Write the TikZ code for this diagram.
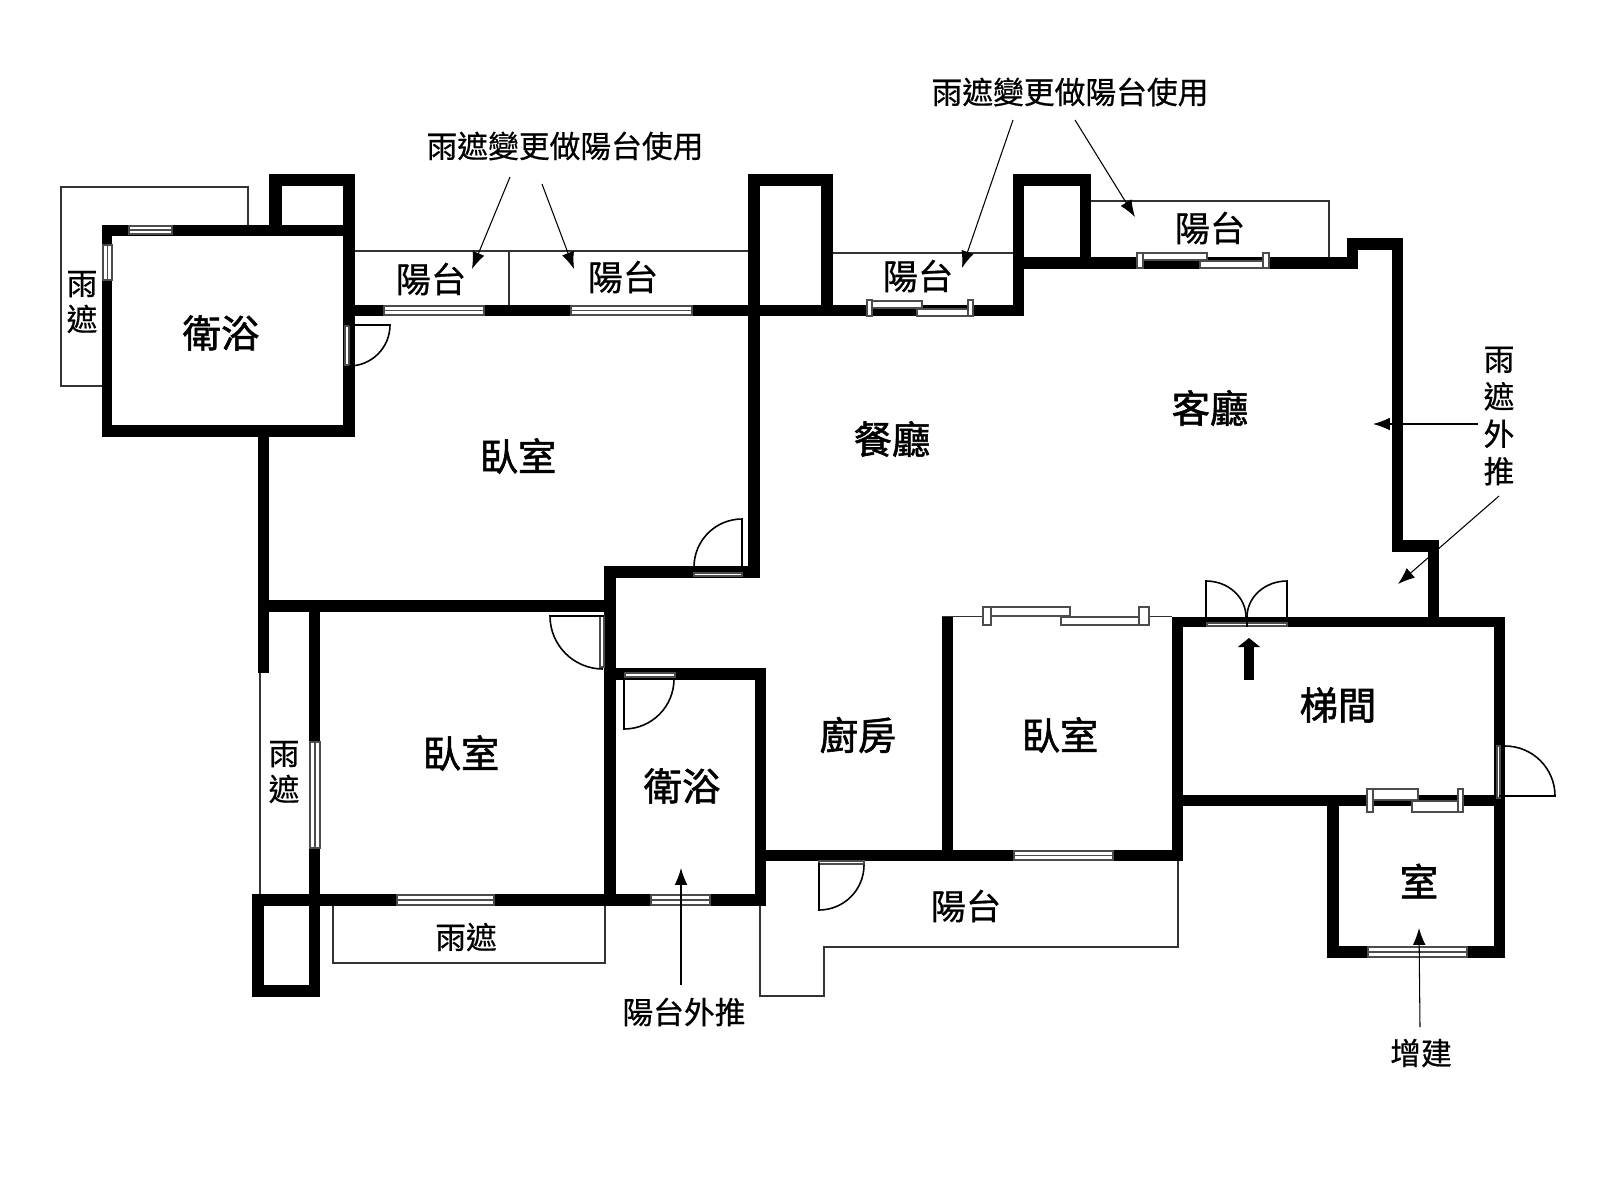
\documentclass[tikz,border=0pt]{standalone}
\usepackage{fontspec}
\setmainfont{Noto Sans CJK TC}
\newfontfamily\roomfont[FakeBold=1.5]{Noto Sans CJK TC}
\newfontfamily\notefont[FakeBold=.6]{Noto Sans CJK TC}
\usetikzlibrary{arrows.meta}
\tikzset{
wall/.style={fill=black},
thin line/.style={draw=black!80,line width=.45pt},
glass/.style={draw=black!70,fill=white,line width=.35pt},
door/.style={draw=black,line width=.45pt},
leader/.style={draw=black,line width=.3pt,-{Latex[length=4.8pt,width=3.6pt]}},
room/.style={font=\roomfont\fontsize{10.9}{13}\selectfont,inner sep=0pt},
balcony/.style={font=\notefont\fontsize{10}{12}\selectfont,inner sep=0pt},
note/.style={font=\notefont\fontsize{8.75}{10.2}\selectfont,inner sep=0pt,align=center},
}
\begin{document}
\begin{tikzpicture}[x=.01cm,y=-.01cm]
\useasboundingbox (0,0) rectangle (1600,1200);
% outlines of balconies and canopies
\draw[thin line] (102,386) -- (61,386) -- (61,187) -- (248,187) -- (248,225);
\draw[thin line] (355,251) -- (748,251);
\draw[thin line] (509,251) -- (509,305);
\draw[thin line] (833,253) -- (1013,253);
\draw[thin line] (1091,201) -- (1329,201) -- (1329,257);
\draw[thin line] (260,673) -- (260,894);
\draw[thin line] (333,906) -- (333,963) -- (605,963) -- (605,906);
\draw[thin line] (760,906) -- (760,996) -- (824,996) -- (824,947) -- (1178,947) -- (1178,860);
\draw[thin line] (942,616.5) -- (1172,616.5);
% walls
\fill[wall] (102,225) rectangle (355,236);
\fill[wall] (102,225) rectangle (112,437);
\fill[wall] (102,425) rectangle (355,437);
\fill[wall] (343,174) rectangle (355,437);
\fill[wall] (269,174) rectangle (355,186);
\fill[wall] (269,174) rectangle (282,236);
\fill[wall] (355,305) rectangle (1024,316);
\fill[wall] (748,174) rectangle (833,186);
\fill[wall] (748,174) rectangle (760,578);
\fill[wall] (821,174) rectangle (833,316);
\fill[wall] (604,566) rectangle (760,578);
\fill[wall] (1013,174) rectangle (1091,186);
\fill[wall] (1013,174) rectangle (1024,316);
\fill[wall] (1080,174) rectangle (1091,269);
\fill[wall] (1013,257) rectangle (1358,269);
\fill[wall] (1347,238) rectangle (1358,269);
\fill[wall] (1347,238) rectangle (1403,250);
\fill[wall] (1392,238) rectangle (1403,552);
\fill[wall] (1392,540) rectangle (1439,552);
\fill[wall] (1428,540) rectangle (1439,617);
\fill[wall] (258,437) rectangle (269,673);
\fill[wall] (258,600) rectangle (616,612);
\fill[wall] (309,600) rectangle (320,997);
\fill[wall] (604,566) rectangle (616,906);
\fill[wall] (252,894) rectangle (766,906);
\fill[wall] (252,894) rectangle (264,997);
\fill[wall] (252,985) rectangle (320,997);
\fill[wall] (604,668) rectangle (766,680);
\fill[wall] (755,668) rectangle (766,906);
\fill[wall] (766,850) rectangle (1183,861);
\fill[wall] (942,617) rectangle (953,861);
\fill[wall] (1172,617) rectangle (1183,861);
\fill[wall] (1172,617) rectangle (1505,627);
\fill[wall] (1494,617) rectangle (1505,958);
\fill[wall] (1172,795) rectangle (1505,806);
\fill[wall] (1327,795) rectangle (1339,958);
\fill[wall] (1327,946) rectangle (1505,958);
% windows
\draw[glass] (129,226) rectangle (172,234) (129,230) -- (172,230);
\draw[glass] (103,245) rectangle (112,280) (107.5,245) -- (107.5,280);
\draw[glass] (384,306) rectangle (484,315) (384,310.5) -- (484,310.5);
\draw[glass] (571,306) rectangle (692,315) (571,310.5) -- (692,310.5);
\draw[glass] (397,895) rectangle (494,905) (397,900) -- (494,900);
\draw[glass] (651,895) rectangle (710,905) (651,900) -- (710,900);
\draw[glass] (310,742) rectangle (320,848) (315,742) -- (315,848);
\draw[glass] (1014,851) rectangle (1113,860) (1014,855.5) -- (1113,855.5);
\draw[glass] (1368,947) rectangle (1467,957) (1368,952) -- (1467,952);
% sliding windows
\draw[glass] (872,301) rectangle (922,308);
\draw[glass] (917,309) rectangle (968,316);
\draw[glass] (867,300) rectangle (872,316);
\draw[glass] (968,300) rectangle (973,316);
\draw[glass] (1143,253) rectangle (1207,260);
\draw[glass] (1200,261) rectangle (1263,268);
\draw[glass] (1137,253) rectangle (1143,268);
\draw[glass] (1263,253) rectangle (1269,268);
\draw[glass] (991,607) rectangle (1070,616);
\draw[glass] (1061,617) rectangle (1139,625);
\draw[glass] (983,607) rectangle (991,625);
\draw[glass] (1139,607) rectangle (1149,625);
\draw[glass] (1373,789) rectangle (1418,800);
\draw[glass] (1412,801) rectangle (1458,812);
\draw[glass] (1367,789) rectangle (1373,812);
\draw[glass] (1458,789) rectangle (1463,812);
% doors
\draw[glass] (345,326) rectangle (349,365);
\draw[door] (349,325) -- (390,325) arc (0:90:41);
\draw[glass] (694,573) rectangle (742,576);
\draw[door] (742,566) -- (742,519) arc (-90:-180:48);
\draw[glass] (600,616) rectangle (604,667);
\draw[door] (604,616) -- (550,616) arc (180:90:53);
\draw[glass] (625,673) rectangle (675,677);
\draw[door] (624,680) -- (624,729) arc (90:0:50);
\draw[glass] (819,861) rectangle (864,864);
\draw[door] (819,863) -- (819,910) arc (90:0:45);
\draw[glass] (1207,623) rectangle (1287,626);
\draw[door] (1206,617) -- (1206,581) arc[start angle=-90,end angle=0,x radius=40,y radius=36];
\draw[door] (1287,617) -- (1287,581) arc[start angle=-90,end angle=-180,x radius=40,y radius=36];
\draw[door] (1247,617) -- (1247,627);
\draw[glass] (1497,746) rectangle (1500,798);
\draw[door] (1505,746) arc (-90:0:50) -- (1499,796);
% rooms
\node[room] (bath1) at (221,333) {衛浴};
\node[room] (bed1) at (518,456) {臥室};
\node[room] (dining) at (892,439) {餐廳};
\node[room] (living) at (1210,408) {客廳};
\node[room] (bed2) at (461,753) {臥室};
\node[room] (bath2) at (682,786) {衛浴};
\node[room] (kitchen) at (858,735) {廚房};
\node[room] (bed3) at (1060,735) {臥室};
\node[room] (stair) at (1338,705) {梯間};
\node[room] (extra) at (1419,881) {室};
% balconies
\node[balcony] (balc1) at (431,279) {陽台};
\node[balcony] (balc2) at (623,277) {陽台};
\node[balcony] (balc3) at (918,276) {陽台};
\node[balcony] (balc4) at (1210,228) {陽台};
\node[balcony] (balc5) at (966,906) {陽台};
% notes
\node[note] (rain1) at (82,302) {雨\\遮};
\node[note] (rain2) at (284,772) {雨\\遮};
\node[note] (rain3) at (466,937) {雨遮};
\node[note] (title1) at (565,146) {雨遮變更做陽台使用};
\node[note] (title2) at (1070,92) {雨遮變更做陽台使用};
\node[note] (push1) at (1499,416) {雨\\[.45pt]遮\\[.45pt]外\\[.45pt]推};
\node[note] (push2) at (684,1012) {陽台外推};
\node[note] (added) at (1421,1053) {增建};
% leaders
\coordinate (a1) at (510,177);
\coordinate (a2) at (472,269);
\coordinate (b1) at (542,184);
\coordinate (b2) at (574,269);
\coordinate (c1) at (1013,120);
\coordinate (c2) at (962,268);
\coordinate (d1) at (1075,120);
\coordinate (d2) at (1135,217);
\coordinate (e1) at (1478,424);
\coordinate (e2) at (1373,424);
\coordinate (f1) at (1499,496);
\coordinate (f2) at (1398,584);
\coordinate (g1) at (681,985);
\coordinate (g2) at (681,868);
\coordinate (h1) at (1420,1027);
\coordinate (h2) at (1419,928);
\draw[leader] (a1) -- (a2);
\draw[leader] (b1) -- (b2);
\draw[leader] (c1) -- (c2);
\draw[leader] (d1) -- (d2);
\draw[leader] (e1) -- (e2);
\draw[leader] (f1) -- (f2);
\draw[leader] (g1) -- (g2);
\draw[leader] (h1) -- (h2);
% entrance
\coordinate (in1) at (1249,680);
\coordinate (in2) at (1249,638);
\draw[line width=3pt,-{Triangle[length=2.6pt,width=6.3pt]}] (in1) -- (in2);
\end{tikzpicture}
\end{document}
